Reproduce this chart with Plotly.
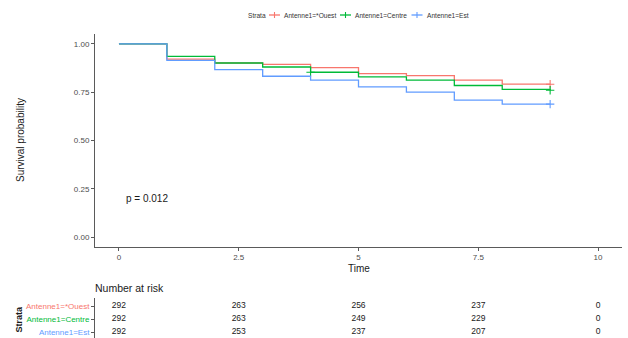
import plotly.graph_objects as go

# Kaplan-Meier estimates by stratum (yearly event times)
times = [0, 1, 2, 3, 4, 5, 6, 7, 8, 9]
surv_ouest = [1.0, 0.921, 0.9007, 0.894, 0.8767, 0.846, 0.8356, 0.8116, 0.791, 0.791]
surv_centre = [1.0, 0.935, 0.9007, 0.880, 0.8527, 0.8288, 0.8116, 0.7842, 0.7637, 0.760]
surv_est = [1.0, 0.9144, 0.8664, 0.832, 0.8116, 0.7774, 0.750, 0.7089, 0.688, 0.688]

strata = ["Antenne1=*Ouest", "Antenne1=Centre", "Antenne1=Est"]
colors = ["#F8766D", "#00BA38", "#619CFF"]

# censoring marks (time, survival) per stratum
censor_ouest = ([9], [0.791])
censor_centre = ([4, 9], [0.8527, 0.760])
censor_est = ([9], [0.688])

# number-at-risk table
risk_times = [0, 2.5, 5, 7.5, 10]
risk_ouest = [292, 263, 256, 237, 0]
risk_centre = [292, 263, 249, 229, 0]
risk_est = [292, 253, 237, 207, 0]

p_label = "p = 0.012"

FONT = "Liberation Sans, Arial, sans-serif"
AXIS_COL = "#4d4d4d"
TEXT_COL = "#1a1a1a"
W, H = 628, 338
ML, MR = 95, 6
PW = W - ML - MR


def px_x(px):
    """pixel column -> paper x"""
    return (px - ML) / PW


def px_y(py):
    """pixel row -> paper y"""
    return (H - py) / H


fig = go.Figure()

curves = [surv_ouest, surv_centre, surv_est]
censors = [censor_ouest, censor_centre, censor_est]
for name, col, s, (cx, cy) in zip(strata, colors, curves, censors):
    fig.add_trace(go.Scatter(
        x=times, y=s, mode="lines", line=dict(color=col, width=1.3, shape="hv"),
        name=name, showlegend=False, hoverinfo="skip"))
    fig.add_trace(go.Scatter(
        x=cx, y=cy, mode="markers",
        marker=dict(symbol="cross-thin", size=6, line=dict(color=col, width=1.1)),
        showlegend=False, hoverinfo="skip"))

# risk table rows (bottom to top: Est, Centre, Ouest)
rows = [risk_est, risk_centre, risk_ouest]
for i, counts in enumerate(rows):
    fig.add_trace(go.Scatter(
        x=risk_times, y=[i] * len(risk_times), mode="text",
        text=[str(c) for c in counts], textposition="middle center",
        textfont=dict(family=FONT, size=8.5, color=TEXT_COL),
        xaxis="x2", yaxis="y2", showlegend=False, hoverinfo="skip"))

row_labels = [strata[2], strata[1], strata[0]]
row_colors = [colors[2], colors[1], colors[0]]
ticktext = ['<span style="color:%s">%s</span>' % (c, t) for c, t in zip(row_colors, row_labels)]

axis_common = dict(showgrid=False, zeroline=False, showline=True, linecolor="#5a5a5a",
                   linewidth=1, ticks="outside", ticklen=3, tickcolor="#5a5a5a",
                   tickfont=dict(family=FONT, size=8, color=AXIS_COL))

# legend drawn at the top: title, then key (line + cross) and label per stratum
legend_y = 15
key_centers = [274.5, 345.5, 417]
shapes = []
annotations = [
    dict(text="Strata", xref="paper", yref="paper", x=px_x(246), y=px_y(legend_y),
         showarrow=False, xanchor="left", yanchor="middle",
         font=dict(family=FONT, size=6.6, color="#333333")),
]
for name, col, kc in zip(strata, colors, key_centers):
    shapes.append(dict(type="line", xref="paper", yref="paper",
                       x0=px_x(kc - 5.5), x1=px_x(kc + 5.5), y0=px_y(legend_y), y1=px_y(legend_y),
                       line=dict(color=col, width=1.3)))
    shapes.append(dict(type="line", xref="paper", yref="paper",
                       x0=px_x(kc), x1=px_x(kc), y0=px_y(legend_y - 3), y1=px_y(legend_y + 3),
                       line=dict(color=col, width=1.1)))
    annotations.append(dict(text=name, xref="paper", yref="paper", x=px_x(kc + 7.5), y=px_y(legend_y),
                            showarrow=False, xanchor="left", yanchor="middle",
                            font=dict(family=FONT, size=6.6, color="#333333")))

annotations += [
    dict(text="Survival probability", xref="paper", yref="paper", x=px_x(20), y=px_y(140),
         textangle=-90, showarrow=False, xanchor="center", yanchor="middle",
         font=dict(family=FONT, size=10, color=TEXT_COL)),
    dict(text="Time", xref="paper", yref="paper", x=0.5, y=px_y(268),
         showarrow=False, xanchor="center", yanchor="middle",
         font=dict(family=FONT, size=10, color=TEXT_COL)),
    dict(text=p_label, xref="x", yref="y", x=0.1, y=0.2,
         showarrow=False, xanchor="left", yanchor="middle",
         font=dict(family=FONT, size=10, color=TEXT_COL)),
    dict(text="Number at risk", xref="paper", yref="paper", x=px_x(93), y=px_y(288),
         showarrow=False, xanchor="left", yanchor="middle",
         font=dict(family=FONT, size=10.5, color=TEXT_COL)),
    dict(text="<b>Strata</b>", xref="paper", yref="paper", x=px_x(18.5), y=px_y(319),
         textangle=-90, showarrow=False, xanchor="center", yanchor="middle",
         font=dict(family=FONT, size=9, color=TEXT_COL)),
]

fig.update_layout(
    width=W, height=H,
    margin=dict(l=ML, r=MR, t=0, b=0),
    plot_bgcolor="white", paper_bgcolor="white",
    font=dict(family=FONT, color=TEXT_COL),
    showlegend=False,
    xaxis=dict(domain=[0, 1], range=[-0.5, 10.5], anchor="y",
               tickvals=[0, 2.5, 5, 7.5, 10], ticktext=["0", "2.5", "5", "7.5", "10"],
               **axis_common),
    yaxis=dict(domain=[0.270, 0.899], range=[-0.05, 1.05], anchor="x",
               tickvals=[0, 0.25, 0.5, 0.75, 1.0],
               ticktext=["0.00", "0.25", "0.50", "0.75", "1.00"],
               **axis_common),
    xaxis2=dict(domain=[0, 1], range=[-0.5, 10.5], anchor="y2", visible=False),
    yaxis2=dict(domain=[0, 0.118], range=[-0.46, 2.615], anchor="x2",
                tickvals=[0, 1, 2], ticktext=ticktext,
                showgrid=False, zeroline=False, showline=True, linecolor="#5a5a5a",
                linewidth=1, ticks="outside", ticklen=3, tickcolor="#5a5a5a",
                tickfont=dict(family=FONT, size=8)),
    shapes=shapes,
    annotations=annotations,
)

fig.write_html("out.html")
